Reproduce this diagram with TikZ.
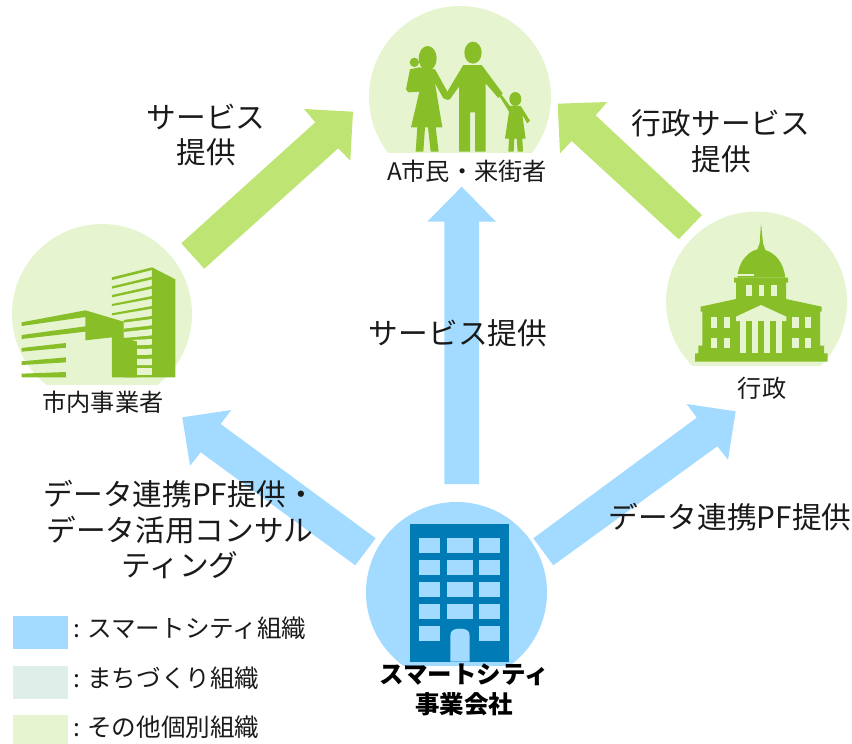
\documentclass[tikz,border=0pt]{standalone}
\usepackage{fontspec}
\setmainfont{Noto Sans CJK JP}
\definecolor{arrowgreen}{HTML}{BEE573}
\definecolor{circlegreen}{HTML}{E6F4CF}
\definecolor{icongreen}{HTML}{88BE28}
\definecolor{skyblue}{HTML}{A2DBFF}
\definecolor{deepblue}{HTML}{007BB5}
\definecolor{paleteal}{HTML}{DEEEE8}
\definecolor{inkblack}{HTML}{1A1A1A}
\tikzset{
  bigtext/.style={inner sep=0pt,align=center,text=inkblack,font=\fontsize{29.7}{35.5}\selectfont},
  smalltext/.style={inner sep=0pt,align=center,text=inkblack,font=\fontsize{24.2}{30}\selectfont},
  boldtext/.style={inner sep=0pt,align=center,text=black,font=\fontsize{24.5}{30}\selectfont\bfseries},
  legendtext/.style={inner sep=0pt,anchor=west,text=inkblack,font=\fontsize{24.6}{30}\selectfont},
  icon/.style={fill=icongreen,draw=none},
  gap/.style={fill=circlegreen,draw=none},
  win/.style={fill=skyblue,draw=none},
  crop/.style={x=0.33333pt,y=-0.33333pt},
}
\begin{document}
\begin{tikzpicture}[x=1pt,y=-1pt]
\useasboundingbox (0,0) rectangle (852,744);
% circles
\begin{scope}\clip (300,0) rectangle (620,152); \fill[circlegreen] (460,97) circle (91);\end{scope}
\begin{scope}\clip (0,200) rectangle (200,384); \fill[circlegreen] (102,314) circle (90);\end{scope}
\begin{scope}\clip (650,200) rectangle (852,365); \fill[circlegreen] (756.5,302) circle (90.5);\end{scope}
\begin{scope}\clip (350,490) rectangle (560,665); \fill[skyblue] (456.5,592.5) circle (90.5);\end{scope}
% arrows
\fill[arrowgreen] (181.3,243.3)--(315.3,122.3)--(304,109)--(353,111.7)--(350.3,160.7)--(338.3,148.3)--(204.3,268.7)--cycle;
\fill[arrowgreen] (702,215)--(595.7,115.3)--(607.3,102)--(557.7,103.7)--(560,153.3)--(571.7,141)--(678.7,239.3)--cycle;
\fill[skyblue] (375.7,538.3)--(220.7,424)--(231.3,410)--(182.3,417.3)--(190,465.7)--(200.7,452.3)--(355.3,565.3)--cycle;
\fill[skyblue] (533.3,538.3)--(696.7,417.7)--(686.7,404)--(735.7,411.3)--(728,459.7)--(717.3,446.3)--(553.3,565.3)--cycle;
\fill[skyblue] (444.3,484)--(444.3,221.7)--(427.3,221.7)--(461.7,186.7)--(496,221.7)--(479,221.7)--(479,484)--cycle;
% family
\begin{scope}[shift={(360,30)},crop]
\fill[icon] (339,68) ellipse [x radius=26,y radius=33];
\fill[icon] (310,105)--(365,105)--(428,190)--(415,204)--(377,160)--(377,365)--(345,365)--(345,247)--(330,247)--(330,365)--(297,365)--(297,170)--(270,207)--(258,208)--(262,185)--cycle;
\fill[icon] (203,85) ellipse [x radius=27,y radius=37];
\fill[icon] (163,97) circle (14);
\fill[icon] (178,112)--(225,118)--(265,190)--(275,200)--(265,210)--(250,205)--(225,160)--(247,292)--(227,292)--(236,365)--(212,365)--(204,292)--(195,292)--(190,365)--(167,365)--(172,292)--(153,292)--(178,185)--(145,187)--(138,178)--(150,118)--cycle;
\fill[icon] (466,207) ellipse [x radius=18,y radius=21];
\fill[icon] (418,198)--(425,195)--(450,228)--(482,228)--(510,272)--(502,280)--(487,255)--(497,326)--(487,326)--(489,365)--(473,365)--(470,326)--(463,326)--(461,365)--(445,365)--(447,326)--(435,326)--(447,245)--cycle;
\end{scope}
% offices
\begin{scope}[shift={(0,220)},crop]
\fill[icon] (456,142)--(526,178)--(526,472)--(456,472)--cycle;
\fill[icon] (336,172)--(456,142)--(456,150)--(336,180)--cycle;
\fill[icon] (336,199)--(456,170)--(456,178)--(336,206)--cycle;
\fill[icon] (336,225)--(456,198)--(456,206)--(336,232)--cycle;
\fill[icon] (336,252)--(456,228)--(456,236)--(336,258)--cycle;
\fill[icon] (336,280)--(456,258)--(456,266)--(336,286)--cycle;
\fill[icon] (371,300)--(456,288)--(456,472)--(371,472)--cycle;
\fill[gap] (371,308)--(456,297)--(456,316)--(371,326)--cycle;
\fill[gap] (371,336)--(456,327)--(456,346)--(371,354)--cycle;
\fill[gap] (393,360)--(456,357)--(456,374)--(411,376)--(411,365)--cycle;
\fill[gap] (411,387)--(456,386)--(456,404)--(411,405)--cycle;
\fill[gap] (411,417)--(456,416)--(456,435)--(411,435)--cycle;
\fill[gap] (411,445)--(456,445)--(456,464)--(411,464)--cycle;
\fill[icon] (256,271)--(371,305)--(371,352)--(393,360)--(411,365)--(411,472)--(336,472)--(336,352)--(256,361)--(256,335)--(65,357)--(65,345)--(256,319)--(256,291)--(65,318)--(65,307)--cycle;
\fill[icon] (65,384)--(198,369)--(198,383)--(65,395)--cycle;
\fill[icon] (65,424)--(198,412)--(198,427)--(65,435)--cycle;
\fill[icon] (65,461)--(198,456)--(198,472)--(65,472)--cycle;
\end{scope}
% government building
\begin{scope}[shift={(660,210)},crop]
\fill[icon] (233,192) .. controls (240,150) and (265,125) .. (292,118) -- (299,100) -- (303,40) -- (309,100) -- (316,120) .. controls (345,130) and (370,155) .. (376,203) -- (233,203) -- cycle;
\fill[gap] (230,191) rectangle (283,198);
\fill[icon] (222,203)--(384,203)--(384,218)--(378,218)--(378,267)--(485,290)--(485,305)--(480,305)--(480,407)--(492,407)--(492,430)--(503,430)--(503,455)--(105,455)--(105,430)--(115,430)--(115,407)--(127,407)--(127,305)--(122,305)--(122,290)--(228,267)--(228,218)--(222,218)--cycle;
\fill[gap] (257,225) rectangle (275,257);
\fill[gap] (296,225) rectangle (313,257);
\fill[gap] (332,225) rectangle (350,257);
\foreach \wx in {153,191,397,435}{
  \fill[gap] (\wx,321) rectangle ++(19,32);
  \fill[gap] (\wx,383) rectangle ++(19,32);
}
\fill[gap] (228,320)--(303,285)--(379,320)--(379,333)--(228,333)--cycle;
\fill[gap] (241,333) rectangle (365,430);
\fill[icon] (259,333) rectangle (277,430);
\fill[icon] (295,333) rectangle (313,430);
\fill[icon] (330,333) rectangle (348,430);
\end{scope}
% company building
\fill[deepblue] (410,524) rectangle (509.3,661.7);
\foreach \wy in {538.3,560.3,582.3,604}{
  \fill[win] (419.3,\wy) rectangle ++(21,15);
  \fill[win] (447,\wy) rectangle ++(25.7,15);
  \fill[win] (479.3,\wy) rectangle ++(21,15);
}
\fill[win] (419.3,626) rectangle ++(21,15);
\fill[win] (479.3,626) rectangle ++(21,15);
\fill[win] (450.3,661.7) -- (450.3,636) .. controls (450.3,630) and (454,628.7) .. (460,628.7) .. controls (466,628.7) and (469.7,630) .. (469.7,636) -- (469.7,661.7) -- cycle;
% labels
\node[bigtext] (l1) at (206,135) {サービス\\提供};
\node[bigtext] (l2) at (721,141) {行政サービス\\提供};
\node[bigtext] (l3) at (458,333) {サービス提供};
\node[bigtext] (l4) at (730,517) {データ連携PF提供};
\node[bigtext] (l5) at (180,530) {データ連携PF提供・\\データ活用コンサル\\ティング};
\node[smalltext] (n1) at (467,171) {A市民・来街者};
\node[smalltext] (n2) at (103,402) {市内事業者};
\node[smalltext] (n3) at (762,388) {行政};
\node[boldtext] (n4) at (464,690) {スマートシティ\\事業会社};
% legend
\fill[skyblue] (13,616) rectangle (68,649);
\fill[paleteal] (13,666) rectangle (68,699);
\fill[circlegreen] (13,715) rectangle (68,744);
\node[legendtext] (k1) at (73,628) {: スマートシティ組織};
\node[legendtext] (k2) at (73,678) {: まちづくり組織};
\node[legendtext] (k3) at (73,727) {: その他個別組織};
\end{tikzpicture}
\end{document}
